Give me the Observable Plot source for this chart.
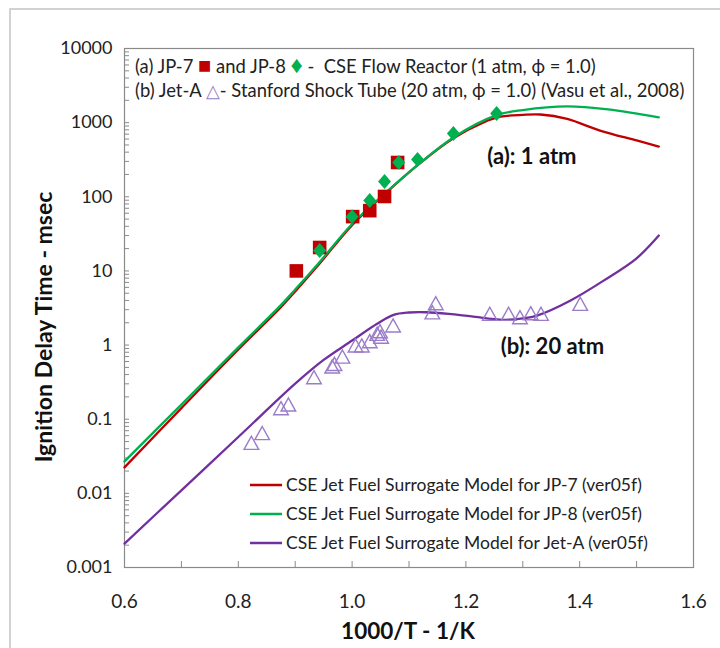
<!DOCTYPE html>
<html><head><meta charset="utf-8">
<script src="https://cdn.jsdelivr.net/npm/d3@7"></script>
<script src="https://cdn.jsdelivr.net/npm/@observablehq/plot@0.6"></script>
<style>
body{margin:0;background:#fff;}
#chart{width:720px;height:648px;overflow:hidden;}
</style></head><body><div id="chart"></div>
<script>
// ---- measured data (JP-7 flow reactor, 1 atm) ----
const jp7X = [0.902, 0.943, 1.001, 1.031, 1.057, 1.080];
const jp7Y = [10, 20.7, 54, 65, 101, 290];
// ---- JP-8 flow reactor, 1 atm ----
const jp8X = [0.943, 1.000, 1.031, 1.057, 1.082, 1.115, 1.178, 1.254];
const jp8Y = [18.8, 54, 89, 161, 290, 318, 713, 1328];
// ---- Jet-A Stanford shock tube, 20 atm ----
const jetAX = [0.823, 0.842, 0.875, 0.888, 0.933, 0.965, 0.969, 0.983, 1.006, 1.017, 1.031, 1.044, 1.049, 1.051, 1.072, 1.141, 1.147, 1.242, 1.275, 1.295, 1.314, 1.332, 1.401];
const jetAY = [0.048, 0.065, 0.141, 0.158, 0.369, 0.514, 0.558, 0.70, 0.99, 0.99, 1.13, 1.42, 1.54, 1.30, 1.84, 2.77, 3.67, 2.64, 2.64, 2.38, 2.69, 2.64, 3.6];
// ---- model curves ----
const jp7ModelX = [0.60, 0.70, 0.80, 0.874, 0.90, 0.943, 1.00, 1.057, 1.114, 1.178, 1.23, 1.261, 1.30, 1.331, 1.378, 1.437, 1.50, 1.539];
const jp7ModelY = [0.0224, 0.141, 0.87, 3.2, 5.3, 12.6, 41.5, 108, 263, 617, 1000, 1202, 1274, 1288, 1122, 776, 575, 476];
const jp8ModelX = [0.60, 0.70, 0.80, 0.874, 0.90, 0.943, 1.00, 1.057, 1.114, 1.178, 1.254, 1.30, 1.378, 1.45, 1.539];
const jp8ModelY = [0.027, 0.158, 0.93, 3.4, 5.6, 13.2, 43, 110, 263, 631, 1260, 1480, 1660, 1510, 1180];
const jetAModelX = [0.60, 0.70, 0.80, 0.90, 0.95, 1.00, 1.044, 1.073, 1.10, 1.13, 1.17, 1.21, 1.266, 1.30, 1.325, 1.384, 1.442, 1.50, 1.539];
const jetAModelY = [0.0021, 0.011, 0.0575, 0.302, 0.631, 1.15, 1.94, 2.56, 2.75, 2.77, 2.63, 2.43, 2.19, 2.29, 2.5, 4.0, 7.4, 14.8, 30];
// ---- axes ----
const xTicks = [0.6, 0.8, 1.0, 1.2, 1.4, 1.6];
const xTickLabels = ["0.6", "0.8", "1.0", "1.2", "1.4", "1.6"];
const xMinorTicks = [0.6, 0.7, 0.8, 0.9, 1.0, 1.1, 1.2, 1.3, 1.4, 1.5, 1.6];
const yTicks = [0.001, 0.01, 0.1, 1, 10, 100, 1000, 10000];
const yTickLabels = ["0.001", "0.01", "0.1", "1", "10", "100", "1000", "10000"];
const xLabel = "1000/T - 1/K";
const yLabel = "Ignition Delay Time - msec";
// ---- annotations & legend ----
const annoText = ["(a): 1 atm", "(b): 20 atm"];
const annoX = [1.316, 1.352];
const annoY = [340, 0.93];
const legendNames = ["CSE Jet Fuel Surrogate Model for JP-7 (ver05f)", "CSE Jet Fuel Surrogate Model for JP-8 (ver05f)", "CSE Jet Fuel Surrogate Model for Jet-A (ver05f)"];
const colors = {red: "#c00000", green: "#00b050", purple: "#7030a0", tri: "#9a7cc9"};

const zip = (xs, ys) => xs.map((x, i) => ({x, y: ys[i]}));
const yMinor = [];
for (let e = -3; e < 4; e++) for (let m = 1; m < 10; m++) yMinor.push(m * Math.pow(10, e));
yMinor.push(10000);

const squareSym = {draw(c, size) { const k = Math.sqrt(size / Math.PI); c.moveTo(-k, -k); c.lineTo(k, -k); c.lineTo(k, k); c.lineTo(-k, k); c.closePath(); }};
const diamondSym = {draw(c, size) { const k = Math.sqrt(size / Math.PI); c.moveTo(0, -1.1 * k); c.lineTo(0.95 * k, 0); c.lineTo(0, 1.1 * k); c.lineTo(-0.95 * k, 0); c.closePath(); }};
const triSym = {draw(c, size) { const k = Math.sqrt(size / Math.PI); c.moveTo(0, -0.9 * k); c.lineTo(k, 0.9 * k); c.lineTo(-k, 0.9 * k); c.closePath(); }};

const font = "Lato, 'Open Sans', sans-serif";
const fmtX = d => xTickLabels[xTicks.findIndex(t => Math.abs(t - d) < 1e-9)];
const fmtY = d => yTickLabels[yTicks.findIndex(t => Math.abs(t - d) / t < 1e-9)];

const svg = Plot.plot({
  width: 720, height: 648,
  marginLeft: 124, marginRight: 27, marginTop: 48, marginBottom: 81,
  style: {fontFamily: font, background: "#fff", color: "#222"},
  x: {domain: [0.6, 1.6]},
  y: {type: "log", domain: [0.001, 10000]},
  marks: [
    Plot.frame({stroke: "#8a8a8a", strokeWidth: 1.2}),
    Plot.axisX(xMinorTicks, {tickSize: -6, tickFormat: () => "", label: null, stroke: "#8a8a8a"}),
    Plot.axisX(xTicks, {tickSize: 0, tickPadding: 27, tickFormat: fmtX, fontSize: 19, label: null, fill: "#222"}),
    Plot.axisY(yMinor, {tickSize: -5, tickFormat: () => "", label: null, stroke: "#8a8a8a"}),
    Plot.axisY(yTicks, {tickSize: 0, tickPadding: 12, tickFormat: fmtY, fontSize: 18, label: null, fill: "#222"}),
    Plot.line(zip(jetAModelX, jetAModelY), {x: "x", y: "y", stroke: colors.purple, strokeWidth: 2.3, curve: "catmull-rom"}),
    Plot.line(zip(jp7ModelX, jp7ModelY), {x: "x", y: "y", stroke: colors.red, strokeWidth: 2.3, curve: "catmull-rom"}),
    Plot.line(zip(jp8ModelX, jp8ModelY), {x: "x", y: "y", stroke: colors.green, strokeWidth: 2.3, curve: "catmull-rom"}),
    Plot.dot(zip(jetAX, jetAY), {x: "x", y: "y", symbol: triSym, r: 7.3, stroke: colors.tri, strokeWidth: 1.4, fill: "none"}),
    Plot.dot(zip(jp7X, jp7Y), {x: "x", y: "y", symbol: squareSym, r: 6.8, fill: colors.red, stroke: "none"}),
    Plot.dot(zip(jp8X, jp8Y), {x: "x", y: "y", symbol: diamondSym, r: 6.8, fill: colors.green, stroke: "none"}),
    Plot.text(annoText, {x: (d, i) => annoX[i], y: (d, i) => annoY[i], text: d => d, fontSize: 22, fontWeight: "bold", fill: "#111"})
  ]
});
document.getElementById("chart").appendChild(svg);

const s = d3.select(svg);
// outer chart-area border
s.insert("rect", ":first-child").attr("x", 10).attr("y", 9).attr("width", 720).attr("height", 660)
  .attr("fill", "none").attr("stroke", "#c4c4c4").attr("stroke-width", 1.5);
// axis titles
s.append("text").attr("x", 408).attr("y", 639).attr("text-anchor", "middle")
  .attr("font-family", font).attr("font-size", 22.5).attr("font-weight", "bold").attr("fill", "#111").text(xLabel);
s.append("text").attr("transform", "translate(52,327) rotate(-90)").attr("text-anchor", "middle")
  .attr("font-family", font).attr("font-size", 23).attr("font-weight", "bold").attr("fill", "#111").text(yLabel);

// top legend
const tl = s.append("g").attr("font-family", font).attr("font-size", 18.4).attr("fill", "#222").attr("text-anchor", "start");
const l1 = tl.append("text").attr("x", 135).attr("y", 73);
l1.append("tspan").text("(a) JP-7 ");
l1.append("tspan").attr("fill", colors.red).attr("font-size", 22).text("■");
l1.append("tspan").text(" and JP-8 ");
l1.append("tspan").attr("fill", colors.green).attr("font-size", 24).text("♦");
l1.append("tspan").text(" -  CSE Flow Reactor (1 atm, ϕ = 1.0)");
const l2 = tl.append("text").attr("x", 135).attr("y", 97);
l2.append("tspan").text("(b) Jet-A ");
l2.append("tspan").attr("fill", colors.tri).text("△");
l2.append("tspan").text("- Stanford Shock Tube (20 atm, ϕ = 1.0) (Vasu et al., 2008)");

// bottom legend
const lc = [colors.red, colors.green, colors.purple];
const lg = s.append("g").attr("font-family", font).attr("font-size", 17.5).attr("fill", "#222").attr("text-anchor", "start");
legendNames.forEach((n, i) => {
  const y = 485 + i * 29;
  lg.append("line").attr("x1", 250).attr("x2", 282).attr("y1", y).attr("y2", y).attr("stroke", lc[i]).attr("stroke-width", 2.5);
  lg.append("text").attr("x", 286).attr("y", y + 6).text(n);
});
</script></body></html>
